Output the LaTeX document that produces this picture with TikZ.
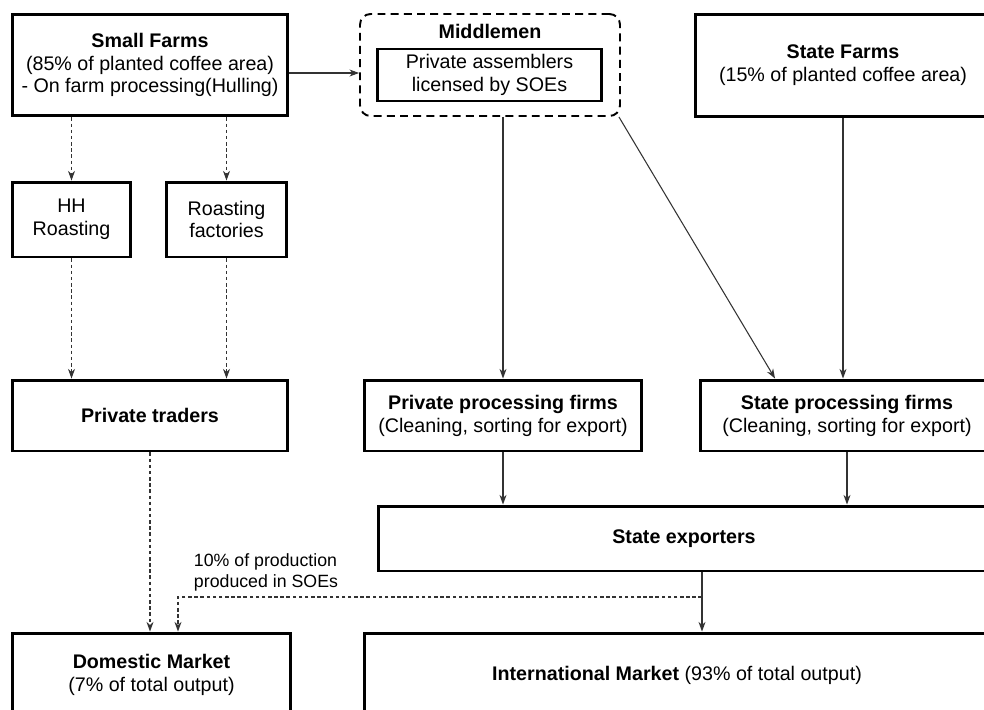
\documentclass[tikz,border=0pt]{standalone}
\usepackage{fontspec}
\setmainfont{Liberation Sans}
\usepackage{tikz}
\usetikzlibrary{arrows.meta}

\begin{document}
\begin{tikzpicture}[x={(0.02cm,0)}, y={(0,-0.02cm)}, font=\fontsize{11.2}{13}\selectfont]
    \tikzstyle{box_style} = [draw=black, line width=1.7pt, fill=white, align=center, inner sep=2pt]
    \tikzstyle{group_style} = [draw=black, line width=1.1pt, dash pattern=on 4.5pt off 3pt, rounded corners=6pt]
    \tikzstyle{edge_style} = [draw=black!80, line width=0.6pt, -{Stealth[length=5.5pt,width=4pt]}]
    \tikzstyle{edge_dashed} = [edge_style, dash pattern=on 2pt off 1.5pt]
    \clip (0,0) rectangle (984,710);
    \fill[white] (0,0) rectangle (984,710);

    \node[box_style, minimum width=5.52cm, minimum height=2.04cm] (small) at (150,65) {\textbf{Small Farms}\\(85\% of planted coffee area)\\- On farm processing(Hulling)};
    \node[group_style, minimum width=5.2cm, minimum height=2.04cm] (middle) at (490,65) {};
    \node (middletitle) at (490,31) {\textbf{Middlemen}};
    \node[box_style, minimum width=4.5cm, minimum height=1.04cm] (assemblers) at (489.5,75) {Private assemblers\\licensed by SOEs};
    \node[box_style, minimum width=5.92cm, minimum height=2.06cm] (statefarms) at (843,65.5) {\textbf{State Farms}\\(15\% of planted coffee area)};

    \node[box_style, minimum width=2.38cm, minimum height=1.5cm] (hh) at (71.5,219.5) {HH\\Roasting};
    \node[box_style, minimum width=2.42cm, minimum height=1.5cm] (roast) at (226.5,219.5) {Roasting\\factories};

    \node[box_style, minimum width=5.52cm, minimum height=1.42cm] (traders) at (150,415.5) {\textbf{Private traders}};
    \node[box_style, minimum width=5.56cm, minimum height=1.42cm] (privproc) at (503,415.5) {\textbf{Private processing firms}\\(Cleaning, sorting for export)};
    \node[box_style, minimum width=5.88cm, minimum height=1.42cm] (stateproc) at (847,415.5) {\textbf{State processing firms}\\(Cleaning, sorting for export)};

    \node[box_style, minimum width=12.24cm, minimum height=1.3cm] (exporters) at (684,538.5) {\textbf{State exporters}};

    \node[box_style, minimum width=5.58cm, minimum height=1.68cm] (domestic) at (151.5,675) {\textbf{Domestic Market}\\(7\% of total output)};
    \node[box_style, minimum width=12.52cm, minimum height=1.68cm] (intl) at (677,675) {\textbf{International Market} (93\% of total output)};

    \node[align=left, font=\fontsize{10.1}{12}\selectfont] (soes) at (266,572) {10\% of production\\produced in SOEs};
    \coordinate (split) at (702,597);

    % farms and middlemen
    \draw[edge_style] ([yshift=-0.16cm]small.east) -- ([yshift=-0.16cm]middle.west);
    \draw[edge_dashed] (hh.north |- small.south) -- (hh.north);
    \draw[edge_dashed] (roast.north |- small.south) -- (roast.north);
    \draw[edge_dashed] (hh.south) -- (hh.south |- traders.north);
    \draw[edge_dashed] (roast.south) -- (roast.south |- traders.north);
    \draw[edge_style] (privproc.north |- middle.south) -- (privproc.north);
    \draw[edge_style] ([xshift=-0.04cm]middle.south east) -- ([xshift=-1.44cm]stateproc.north);
    \draw[edge_style] (statefarms.south) -- (statefarms.south |- stateproc.north);

    % processing and markets
    \draw[edge_style] (privproc.south) -- (privproc.south |- exporters.north);
    \draw[edge_style] (stateproc.south) -- (stateproc.south |- exporters.north);
    \draw[edge_dashed] (traders.south) -- (traders.south |- domestic.north);
    \draw[edge_style] (split |- exporters.south) -- (split |- intl.north);
    \draw[edge_dashed] (split) -| ([xshift=0.53cm]domestic.north);
\end{tikzpicture}
\end{document}
